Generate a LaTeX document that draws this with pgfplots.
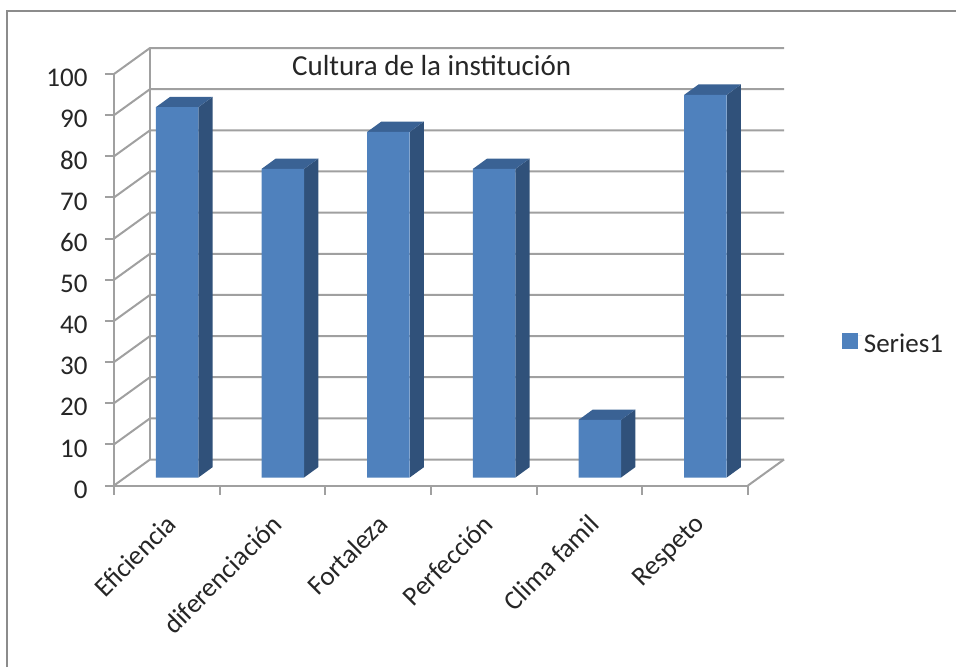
\documentclass[border=0pt]{standalone}
\usepackage{fontspec}
\setmainfont{Carlito}
\usepackage{pgfplots}
\pgfplotsset{compat=1.18}
\definecolor{barfront}{HTML}{4F81BD}
\definecolor{barside}{HTML}{30517A}
\definecolor{bartop}{HTML}{3A6294}
\definecolor{gridc}{HTML}{A0A0A0}
\definecolor{framec}{HTML}{8C8C8C}
\definecolor{textc}{HTML}{262626}
% depth faces of one bar: x of the front left edge in category units, value
\newcommand{\barfaces}[2]{%
  \pgfmathsetmacro{\xl}{#1}
  \pgfmathsetmacro{\xr}{#1+0.402}
  \pgfmathsetmacro{\xd}{#1+0.402+0.134}
  \pgfmathsetmacro{\xt}{#1+0.134}
  \pgfmathsetmacro{\yb}{1.95}
  \pgfmathsetmacro{\yt}{#2+1.95}
  \pgfmathsetmacro{\ydb}{1.95+2.5}
  \pgfmathsetmacro{\ydt}{#2+1.95+2.5}
  \addplot[fill=barside,draw=none,forget plot] coordinates {(\xr,\yb) (\xd,\ydb) (\xd,\ydt) (\xr,\yt)} -- cycle;
  \addplot[fill=bartop,draw=none,forget plot] coordinates {(\xl,\yt) (\xt,\ydt) (\xd,\ydt) (\xr,\yt)} -- cycle;
}
\begin{document}
\begin{tikzpicture}
\useasboundingbox (0pt,0pt) rectangle (956pt,-667pt);
\draw[framec,line width=2pt] (7pt,-667pt) -- (7pt,-10.5pt) -- (956pt,-10.5pt);
\begin{axis}[
  at={(114pt,-485.5pt)},anchor=south west,
  scale only axis,width=634pt,height=411.5pt,
  xmin=0,xmax=6,ymin=0,ymax=100,
  clip=false,
  axis x line*=bottom,axis y line*=left,
  axis line style={gridc,line width=2pt,-},
  xtick={0.5,1.5,2.5,3.5,4.5,5.5},
  xticklabels={Eficiencia,diferenciación,Fortaleza,Perfección,Clima famil,Respeto},
  major x tick style={draw=none},
  minor xtick={0,1,2,3,4,5,6},
  ytick={0,10,...,100},
  tick align=outside,
  major tick length=9pt,minor tick length=9pt,
  tick style={gridc,line width=2pt},
  minor tick style={gridc,line width=2pt},
  /pgf/number format/assume math mode=true,
  ticklabel style={font=\fontsize{27}{32}\selectfont,text=textc},
  xticklabel style={rotate=45,anchor=north east,yshift=-8pt,xshift=-11pt},
  yticklabel style={xshift=-14pt,yshift=-4pt},
  title={Cultura de la institución},
  title style={at={(0.501,1.0)},anchor=center,yshift=2pt,font=\fontsize{29}{34}\selectfont,text=textc},
  legend style={at={(1.143,0.345)},anchor=west,draw=none,fill=none,font=\fontsize{27}{32}\selectfont,text=textc},
  legend cell align=left,
  legend image code/.code={\path (0pt,0pt) -- (20pt,0pt);\fill[barfront] (0pt,-13.5pt) rectangle (16pt,2.5pt);},
]
\pgfplotsinvokeforeach{0,10,...,100}{
  \draw[gridc,line width=2pt] (axis cs:0,#1) -- ++(36pt,26pt) -- ++(634pt,0pt);
}
\draw[gridc,line width=2pt] (axis cs:0,0) ++(36pt,26pt) -- ++(0pt,411.5pt);
\draw[gridc,line width=2pt] (axis cs:6,0) -- ++(36pt,26pt);
\barfaces{0.397}{90}
\barfaces{1.397}{75}
\barfaces{2.397}{84}
\barfaces{3.397}{75}
\barfaces{4.397}{14}
\barfaces{5.397}{93}
\addplot[ybar,bar width=42.5pt,fill=barfront,draw=none,xshift=10.25pt,yshift=8pt] coordinates {
(0.5,90) (1.5,75) (2.5,84) (3.5,75) (4.5,14) (5.5,93)};
\addlegendentry{Series1}
\end{axis}
\end{tikzpicture}
\end{document}
